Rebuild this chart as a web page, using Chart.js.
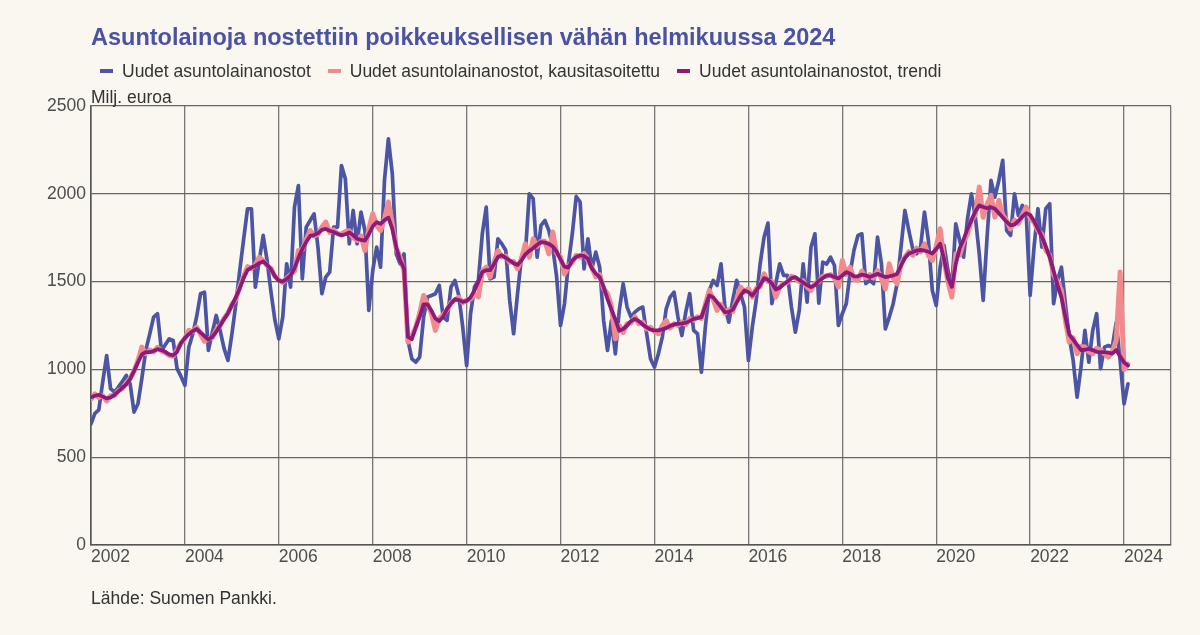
<!DOCTYPE html>
<html>
<head>
<meta charset="utf-8">
<script src="https://cdn.jsdelivr.net/npm/chart.js@4.4.1/dist/chart.umd.min.js"></script>
<style>
  html, body { margin: 0; padding: 0; background: #faf6f0; }
  body { width: 1200px; height: 635px; position: relative; overflow: hidden;
         font-family: "Liberation Sans", Arial, sans-serif; color: #333; }
  #title { position: absolute; left: 91px; top: 22px; font-size: 23.5px; font-weight: bold;
           color: #4a52a3; line-height: 30px; white-space: nowrap; }
  #legend { position: absolute; left: 100px; top: 60px; font-size: 17.5px; line-height: 22px;
            display: flex; white-space: nowrap; }
  .item { display: flex; align-items: center; margin-right: 17px; }
  .mark { width: 13px; height: 4px; margin-right: 9px; }
  #unit { position: absolute; left: 91px; top: 86px; font-size: 17.5px; line-height: 22px; }
  #source { position: absolute; left: 91px; top: 587px; font-size: 17.5px; line-height: 22px; }
  #chart { position: absolute; left: 0; top: 0; }
</style>
</head>
<body>
<canvas id="chart" width="1200" height="635"></canvas>
<div id="title">Asuntolainoja nostettiin poikkeuksellisen vähän helmikuussa 2024</div>
<div id="legend"></div>
<div id="unit">Milj. euroa</div>
<div id="source">Lähde: Suomen Pankki.</div>
<script>
// kuukausittain, tammikuu 2002 - helmikuu 2024 (milj. euroa)
const firstYear = 2002;
const seriesNames = ["Uudet asuntolainanostot", "Uudet asuntolainanostot, kausitasoitettu", "Uudet asuntolainanostot, trendi"];
const seriesColors = ["#4b55a3", "#f08a8c", "#8d1a7b"];

const nostot = [
  690, 750, 770, 930, 1079, 890, 871, 899, 930, 966, 918, 757,        // 2002
  804, 950, 1108, 1200, 1298, 1317, 1108, 1140, 1174, 1165, 1004, 960, // 2003
  909, 1127, 1200, 1300, 1431, 1440, 1108, 1210, 1307, 1222, 1120, 1051, // 2004
  1200, 1370, 1560, 1740, 1915, 1915, 1469, 1620, 1763, 1620, 1440, 1280, // 2005
  1174, 1298, 1601, 1469, 1924, 2047, 1516, 1810, 1848, 1886, 1696, 1431, // 2006
  1526, 1554, 1810, 1810, 2161, 2085, 1715, 1905, 1715, 1896, 1791, 1336, // 2007
  1563, 1696, 1582, 2076, 2313, 2114, 1658, 1601, 1658, 1165, 1060, 1041, // 2008
  1070, 1298, 1412, 1421, 1431, 1478, 1298, 1279, 1469, 1507, 1420, 1241, // 2009
  1022, 1317, 1469, 1507, 1772, 1924, 1516, 1526, 1744, 1715, 1677, 1393, // 2010
  1203, 1431, 1639, 1658, 2000, 1972, 1639, 1820, 1848, 1791, 1696, 1526, // 2011
  1250, 1374, 1601, 1772, 1985, 1953, 1573, 1744, 1573, 1668, 1582, 1279, // 2012
  1108, 1279, 1089, 1336, 1488, 1355, 1298, 1326, 1345, 1355, 1203, 1060, // 2013
  1013, 1089, 1184, 1345, 1412, 1440, 1298, 1193, 1326, 1431, 1222, 1203, // 2014
  984, 1241, 1450, 1507, 1478, 1601, 1355, 1269, 1393, 1507, 1431, 1355,  // 2015
  1051, 1241, 1393, 1601, 1753, 1833, 1374, 1488, 1601, 1535, 1535, 1355, // 2016
  1212, 1336, 1601, 1383, 1696, 1772, 1377, 1611, 1600, 1639, 1592, 1250, // 2017
  1317, 1374, 1550, 1680, 1763, 1772, 1488, 1507, 1488, 1753, 1601, 1231, // 2018
  1298, 1374, 1488, 1696, 1905, 1791, 1687, 1658, 1696, 1896, 1734, 1450, // 2019
  1364, 1582, 1706, 1563, 1469, 1829, 1734, 1639, 1858, 2000, 1867, 1658, // 2020
  1393, 1753, 2076, 1981, 2076, 2190, 1791, 1763, 2000, 1877, 1934, 1886, // 2021
  1421, 1696, 1915, 1696, 1915, 1943, 1374, 1507, 1582, 1374, 1184, 1051, // 2022
  842, 1013, 1222, 1041, 1222, 1317, 1004, 1127, 1136, 1127, 1269, 1050,  // 2023
  804, 918                                                                // 2024
];

const kausitasoitettu = [
  830, 860, 840, 850, 820, 850, 850, 880, 890, 920, 950, 990,
  1050, 1127, 1090, 1110, 1100, 1125, 1105, 1095, 1080, 1075, 1110, 1150,
  1175, 1222, 1215, 1240, 1200, 1160, 1175, 1180, 1225, 1250, 1290, 1320,
  1370, 1400, 1470, 1530, 1585, 1575, 1595, 1639, 1620, 1590, 1575, 1530,
  1510, 1495, 1520, 1540, 1560, 1677, 1680, 1740, 1791, 1760, 1770, 1810,
  1839, 1780, 1795, 1772, 1770, 1785, 1790, 1750, 1734, 1760, 1677, 1800,
  1886, 1820, 1791, 1860, 1953, 1830, 1690, 1640, 1560, 1155, 1190, 1240,
  1320, 1421, 1370, 1320, 1222, 1290, 1310, 1340, 1380, 1395, 1410, 1380,
  1395, 1400, 1430, 1412, 1560, 1582, 1526, 1610, 1677, 1640, 1645, 1610,
  1615, 1573, 1630, 1715, 1639, 1744, 1700, 1730, 1730, 1658, 1782, 1660,
  1640, 1544, 1590, 1610, 1650, 1639, 1660, 1620, 1580, 1526, 1540, 1460,
  1431, 1360, 1174, 1250, 1210, 1260, 1265, 1300, 1260, 1270, 1230, 1240,
  1215, 1203, 1250, 1279, 1235, 1260, 1250, 1270, 1255, 1290, 1280, 1300,
  1290, 1370, 1450, 1400, 1336, 1370, 1320, 1340, 1330, 1400, 1469, 1440,
  1460, 1412, 1460, 1470, 1544, 1500, 1500, 1412, 1470, 1490, 1495, 1530,
  1520, 1500, 1505, 1470, 1450, 1490, 1500, 1530, 1530, 1540, 1520, 1469,
  1620, 1540, 1582, 1510, 1507, 1560, 1520, 1540, 1520, 1563, 1520, 1459,
  1601, 1520, 1488, 1600, 1639, 1670, 1650, 1690, 1670, 1715, 1650, 1620,
  1700, 1801, 1620, 1500, 1412, 1658, 1650, 1730, 1770, 1850, 1880, 2038,
  1867, 1940, 1991, 1867, 1962, 1880, 1848, 1800, 1850, 1830, 1880, 1924,
  1860, 1839, 1790, 1770, 1680, 1650, 1540, 1500, 1450, 1280, 1155, 1180,
  1089, 1130, 1127, 1100, 1089, 1120, 1110, 1090, 1070, 1100, 1165, 1554,
  1000, 1030
];

const trendi = [
  842, 850, 855, 845, 835, 840, 855, 875, 895, 915, 945, 990,
  1040, 1085, 1098, 1098, 1105, 1115, 1110, 1100, 1085, 1080, 1100, 1150,
  1180, 1200, 1218, 1230, 1210, 1190, 1170, 1185, 1215, 1250, 1285, 1320,
  1365, 1410, 1460, 1520, 1565, 1580, 1590, 1605, 1615, 1595, 1570, 1530,
  1505, 1500, 1515, 1535, 1575, 1635, 1685, 1725, 1760, 1765, 1775, 1795,
  1800, 1790, 1782, 1772, 1763, 1770, 1780, 1765, 1744, 1738, 1734, 1770,
  1815, 1838, 1829, 1850, 1865, 1800, 1696, 1620, 1575, 1185, 1172, 1240,
  1300, 1370, 1370, 1335, 1290, 1275, 1300, 1345, 1375, 1400, 1395, 1385,
  1390, 1410, 1450, 1500, 1555, 1565, 1565, 1600, 1640, 1650, 1635, 1620,
  1605, 1595, 1620, 1655, 1675, 1690, 1710, 1725, 1722, 1715, 1700, 1670,
  1625, 1585, 1580, 1620, 1640, 1650, 1645, 1630, 1575, 1545, 1525, 1470,
  1400, 1340, 1285, 1220, 1230, 1250, 1275, 1288, 1275, 1255, 1240, 1226,
  1222, 1222, 1228, 1235, 1248, 1256, 1260, 1262, 1265, 1275, 1288, 1292,
  1298, 1360, 1421, 1410, 1383, 1355, 1326, 1328, 1340, 1380, 1420, 1450,
  1440, 1421, 1450, 1480, 1520, 1510, 1490, 1455, 1465, 1485, 1500, 1520,
  1525, 1510, 1495, 1480, 1469, 1480, 1505, 1520, 1535, 1535, 1526, 1518,
  1535, 1554, 1545, 1530, 1530, 1540, 1535, 1526, 1535, 1544, 1535, 1526,
  1530, 1535, 1544, 1590, 1635, 1660, 1668, 1677, 1680, 1677, 1670, 1660,
  1685, 1715, 1630, 1520, 1470, 1600, 1690, 1740, 1800, 1850, 1900, 1934,
  1925, 1918, 1924, 1915, 1890, 1865, 1840, 1820, 1825, 1845, 1870, 1890,
  1880, 1845, 1800, 1755, 1700, 1640, 1560, 1480, 1410, 1300, 1200, 1170,
  1140, 1110, 1112, 1117, 1110, 1100, 1098, 1098, 1095, 1090, 1110, 1075,
  1040, 1022
];

const yTicks = [0, 500, 1000, 1500, 2000, 2500];

const toPoints = arr => arr.map((v, i) => ({ x: i, y: v }));

// legend
const legend = document.getElementById("legend");
seriesNames.forEach((name, i) => {
  const item = document.createElement("div");
  item.className = "item";
  item.innerHTML = '<span class="mark" style="background:' + seriesColors[i] + '"></span>' + name;
  legend.appendChild(item);
});

const fontSpec = { family: '"Liberation Sans", Arial, sans-serif', size: 17.5 };

new Chart(document.getElementById("chart"), {
  type: 'line',
  data: {
    datasets: [
      { label: seriesNames[0], data: toPoints(nostot), borderColor: seriesColors[0], borderWidth: 3.7, order: 3 },
      { label: seriesNames[1], data: toPoints(kausitasoitettu), borderColor: seriesColors[1], borderWidth: 5, order: 2 },
      { label: seriesNames[2], data: toPoints(trendi), borderColor: seriesColors[2], borderWidth: 3.8, order: 1 }
    ]
  },
  options: {
    responsive: false,
    animation: false,
    devicePixelRatio: 1,
    layout: { padding: { top: 106, right: 29, left: 0, bottom: 0 } },
    elements: {
      point: { radius: 0 },
      line: { tension: 0, borderJoinStyle: 'round', borderCapStyle: 'round', fill: false }
    },
    plugins: { legend: { display: false }, title: { display: false }, tooltip: { enabled: false } },
    scales: {
      x: {
        type: 'linear',
        min: 0,
        max: 276,
        afterFit: s => { s.height = 90; },
        afterBuildTicks: s => { s.ticks = s.ticks.filter(t => t.value % 24 === 0 || t.value === 276); },
        ticks: {
          stepSize: 24,
          align: 'start',
          padding: 2,
          maxRotation: 0,
          autoSkip: false,
          color: '#4d4d4d',
          font: fontSpec,
          callback: v => (v % 24 === 0 ? String(firstYear + v / 12) : '')
        },
        grid: { color: '#777', lineWidth: 1.3, drawTicks: false },
        border: { color: '#555', width: 1.6 }
      },
      y: {
        min: 0,
        max: 2500,
        afterFit: s => { s.width = 91; },
        afterBuildTicks: s => { s.ticks = yTicks.map(v => ({ value: v })); },
        ticks: {
          padding: 5,
          color: '#4d4d4d',
          font: fontSpec,
          callback: v => String(v)
        },
        grid: { color: '#666', lineWidth: 1.3, drawTicks: false },
        border: { color: '#555', width: 1.6 }
      }
    }
  }
});
</script>
</body>
</html>
